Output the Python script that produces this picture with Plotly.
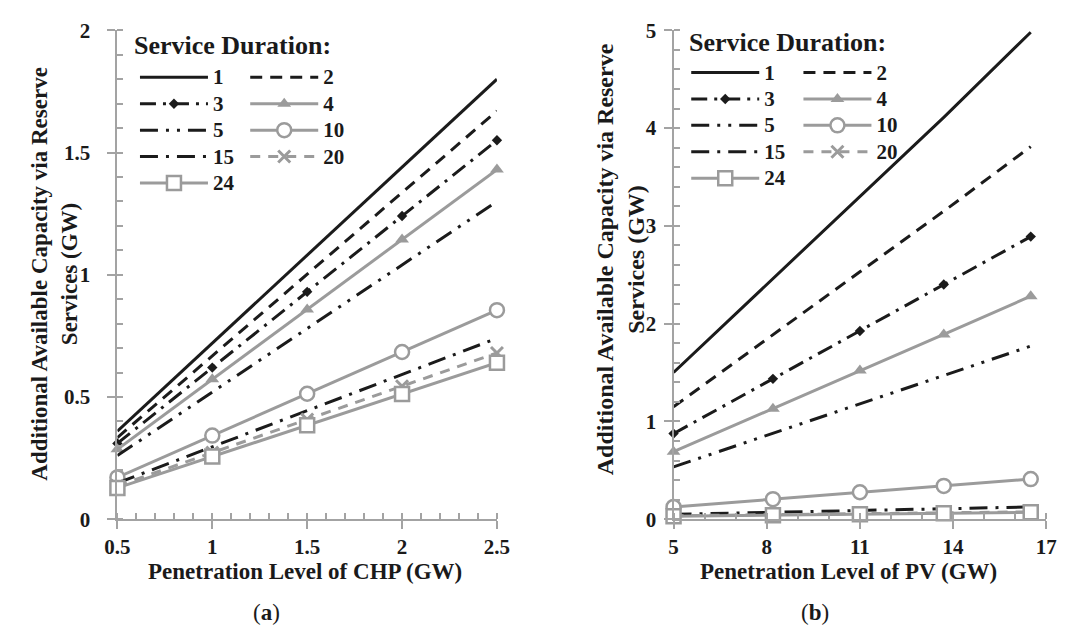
import plotly.graph_objects as go

W, H = 1070, 638

# ---------------- data ----------------
durations = ["1", "2", "3", "4", "5", "10", "15", "20", "24"]

chp_x = [0.5, 1.0, 1.5, 2.0, 2.5]
chp_1 = [0.36, 0.72, 1.08, 1.44, 1.80]
chp_2 = [0.334, 0.668, 1.00, 1.336, 1.67]
chp_3 = [0.31, 0.62, 0.93, 1.24, 1.55]
chp_4 = [0.286, 0.572, 0.858, 1.144, 1.43]
chp_5 = [0.26, 0.52, 0.78, 1.04, 1.30]
chp_10 = [0.171, 0.342, 0.513, 0.684, 0.855]
chp_15 = [0.148, 0.296, 0.444, 0.592, 0.74]
chp_20 = [0.136, 0.272, 0.408, 0.544, 0.68]
chp_24 = [0.128, 0.256, 0.384, 0.512, 0.64]

pv_x = [5.0, 8.2, 11.0, 13.7, 16.5]
pv_1 = [1.50, 2.46, 3.30, 4.11, 4.98]
pv_2 = [1.15, 1.89, 2.53, 3.15, 3.81]
pv_3 = [0.875, 1.435, 1.925, 2.40, 2.89]
pv_4 = [0.69, 1.13, 1.52, 1.89, 2.28]
pv_5 = [0.535, 0.88, 1.18, 1.47, 1.77]
pv_10 = [0.125, 0.205, 0.275, 0.34, 0.41]
pv_15 = [0.05, 0.07, 0.09, 0.11, 0.125]
pv_20 = [0.035, 0.045, 0.055, 0.065, 0.075]
pv_24 = [0.03, 0.04, 0.05, 0.06, 0.07]

chp_series = [chp_1, chp_2, chp_3, chp_4, chp_5, chp_10, chp_15, chp_20, chp_24]
pv_series = [pv_1, pv_2, pv_3, pv_4, pv_5, pv_10, pv_15, pv_20, pv_24]

# ---------------- styles ----------------
BLACK = "#1b1b1b"
GRAY = "#9b9b9b"
AX = "#a3a3a3"
FONT = "Liberation Serif"

styles = {
    "1": dict(line=dict(color=BLACK, width=3, dash="solid"), mode="lines", marker=None),
    "2": dict(line=dict(color=BLACK, width=3, dash="12px,8px"), mode="lines", marker=None),
    "3": dict(line=dict(color=BLACK, width=3, dash="16px,7px,3px,7px"), mode="lines+markers",
              marker=dict(symbol="diamond", size=8, color=BLACK)),
    "4": dict(line=dict(color=GRAY, width=3, dash="solid"), mode="lines+markers",
              marker=dict(symbol="triangle-up", size=12, color=GRAY)),
    "5": dict(line=dict(color=BLACK, width=3, dash="18px,8px,3px,8px,3px,8px"), mode="lines", marker=None),
    "10": dict(line=dict(color=GRAY, width=3, dash="solid"), mode="lines+markers",
               marker=dict(symbol="circle", size=14, color="white", line=dict(color=GRAY, width=2.5))),
    "15": dict(line=dict(color=BLACK, width=3, dash="18px,8px,3px,8px"), mode="lines", marker=None),
    "20": dict(line=dict(color=GRAY, width=3, dash="10px,8px"), mode="lines+markers",
               marker=dict(symbol="x-thin", size=12, color=GRAY, line=dict(color=GRAY, width=3))),
    "24": dict(line=dict(color=GRAY, width=3, dash="solid"), mode="lines+markers",
               marker=dict(symbol="square", size=14, color="white", line=dict(color=GRAY, width=2.5))),
}

col1 = ["1", "3", "5", "15", "24"]

fig = go.Figure()


def add_panel(xs, series_list, xa, ya, leg_a, leg_b):
    for name, ys in zip(durations, series_list):
        st = styles[name]
        kw = dict(x=xs, y=ys, name='<span style="font-size:21px">' + name + '</span>',
                  mode=st["mode"], line=st["line"],
                  xaxis=xa, yaxis=ya, cliponaxis=False,
                  legend=leg_a if name in col1 else leg_b)
        if st["marker"] is not None:
            kw["marker"] = st["marker"]
        fig.add_trace(go.Scatter(**kw))


add_panel(chp_x, chp_series, "x", "y", "legend", "legend2")
add_panel(pv_x, pv_series, "x2", "y2", "legend3", "legend4")


def px(x):
    return x / W


def py(y):
    return 1 - y / H


YDOM = [py(527), py(19)]
tickfont = dict(family=FONT, size=21, color="#1a1a1a", weight="bold")
common = dict(showline=True, linecolor=AX, linewidth=2, ticks="outside", ticklen=8,
              tickwidth=2, tickcolor=AX, showgrid=False, zeroline=False,
              tickfont=tickfont)

fig.update_layout(
    width=W, height=H,
    margin=dict(l=0, r=0, t=0, b=0),
    paper_bgcolor="white", plot_bgcolor="white",
    xaxis=dict(domain=[px(107), px(496)], range=[0.5, 2.5], tick0=0.5, dtick=0.5,
               anchor="y", ticklabelstandoff=0,
               minor=dict(dtick=0.1, ticks="inside", ticklen=6, tickwidth=2, tickcolor=AX),
               **common),
    yaxis=dict(domain=YDOM, range=[0, 2], dtick=0.5, anchor="x", ticklabelstandoff=13,
               minor=dict(dtick=0.1, ticks="inside", ticklen=6, tickwidth=2, tickcolor=AX),
               **common),
    xaxis2=dict(domain=[px(677), px(1059)], range=[5, 17], tick0=5, dtick=3,
                anchor="y2", ticklabelstandoff=0,
                minor=dict(dtick=1, ticks="inside", ticklen=6, tickwidth=2, tickcolor=AX),
                **common),
    yaxis2=dict(domain=YDOM, range=[0, 5], dtick=1, anchor="x2", ticklabelstandoff=3,
                minor=dict(dtick=0.2, ticks="inside", ticklen=6, tickwidth=2, tickcolor=AX),
                **common),
)

legfont = dict(family=FONT, size=18, color="#1a1a1a", weight="bold")
legcommon = dict(font=legfont, bgcolor="rgba(0,0,0,0)", borderwidth=0, itemwidth=68,
                 xanchor="left", yanchor="top", orientation="v", traceorder="normal",
                 itemclick=False, itemdoubleclick=False)
fig.update_layout(
    legend=dict(x=px(125), y=py(49), **legcommon),
    legend2=dict(x=px(238), y=py(49), **legcommon),
    legend3=dict(x=px(690), y=py(44), **legcommon),
    legend4=dict(x=px(805), y=py(44), **legcommon),
)

titlefont = dict(family=FONT, size=23, color="#1a1a1a", weight="bold")
ann = [
    dict(text="Service Duration:", x=px(122), y=py(35), xanchor="left", yanchor="middle",
         font=dict(family=FONT, size=26, color="#1a1a1a", weight="bold")),
    dict(text="Service Duration:", x=px(691), y=py(32), xanchor="left", yanchor="middle",
         font=dict(family=FONT, size=26, color="#1a1a1a", weight="bold")),
    dict(text="Penetration Level of CHP (GW)", x=px(299), y=py(581), xanchor="center",
         yanchor="middle", font=titlefont),
    dict(text="Penetration Level of PV (GW)", x=px(856), y=py(581), xanchor="center",
         yanchor="middle", font=titlefont),
    dict(text="(<b>a</b>)", x=px(260), y=py(624), xanchor="center", yanchor="middle",
         font=dict(family=FONT, size=23, color="#1a1a1a")),
    dict(text="(<b>b</b>)", x=px(822), y=py(624), xanchor="center", yanchor="middle",
         font=dict(family=FONT, size=23, color="#1a1a1a")),
    dict(text="Additional Available Capacity via Reserve<br>Services (GW)", x=px(43), y=py(272),
         xanchor="center", yanchor="middle", textangle=-90, font=titlefont),
    dict(text="Additional Available Capacity via Reserve<br>Services (GW)", x=px(622), y=py(257),
         xanchor="center", yanchor="middle", textangle=-90,
         font=dict(family=FONT, size=24, color="#1a1a1a", weight="bold")),
]
for a in ann:
    a.update(xref="paper", yref="paper", showarrow=False)
fig.update_layout(annotations=ann)

fig.write_html("out.html")
